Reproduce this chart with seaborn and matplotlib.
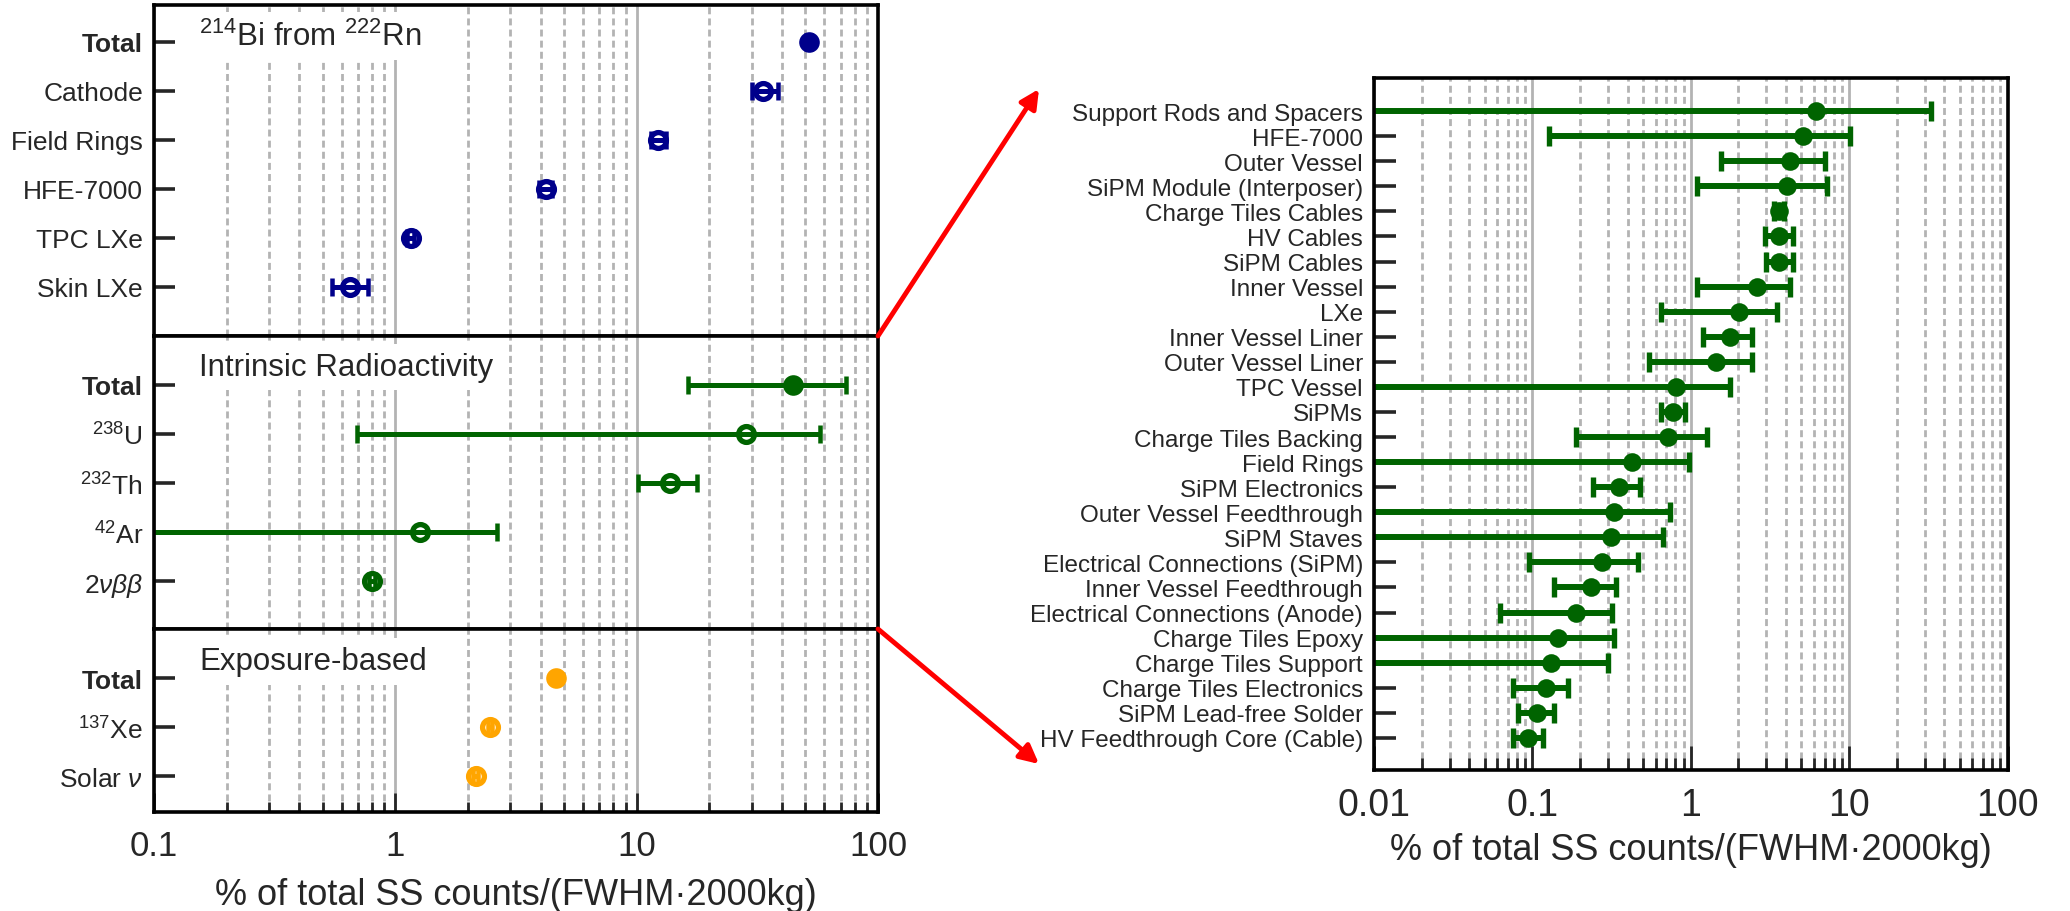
import numpy as np
import matplotlib
matplotlib.use("Agg")
import matplotlib.pyplot as plt
import seaborn as sns

# ---- data ----
bi_labels = ["Total", "Cathode", "Field Rings", "HFE-7000", "TPC LXe", "Skin LXe"]
bi_val = [51.7, 33.3, 12.3, 4.2, 1.16, 0.65]
bi_lo = [50.5, 30.0, 11.5, 3.95, 1.12, 0.545]
bi_hi = [53.0, 38.5, 13.2, 4.45, 1.20, 0.77]

intr_labels = ["Total", r"$^{238}$U", r"$^{232}$Th", r"$^{42}$Ar", r"2$\nu\beta\beta$"]
intr_val = [44.4, 28.3, 13.8, 1.26, 0.80]
intr_lo = [16.3, 0.695, 10.1, 0.0, 0.78]
intr_hi = [73.6, 57.3, 17.7, 2.65, 0.82]

expo_labels = ["Total", r"$^{137}$Xe", r"Solar $\nu$"]
expo_val = [4.65, 2.47, 2.15]
expo_lo = [4.6, 2.42, 2.1]
expo_hi = [4.7, 2.52, 2.2]

comp_labels = ["Support Rods and Spacers", "HFE-7000", "Outer Vessel", "SiPM Module (Interposer)",
               "Charge Tiles Cables", "HV Cables", "SiPM Cables", "Inner Vessel", "LXe",
               "Inner Vessel Liner", "Outer Vessel Liner", "TPC Vessel", "SiPMs",
               "Charge Tiles Backing", "Field Rings", "SiPM Electronics", "Outer Vessel Feedthrough",
               "SiPM Staves", "Electrical Connections (SiPM)", "Inner Vessel Feedthrough",
               "Electrical Connections (Anode)", "Charge Tiles Epoxy", "Charge Tiles Support",
               "Charge Tiles Electronics", "SiPM Lead-free Solder", "HV Feedthrough Core (Cable)"]
comp_val = [6.2, 5.08, 4.21, 4.08, 3.63, 3.59, 3.59, 2.62, 2.02, 1.78, 1.44, 0.81, 0.773,
            0.714, 0.427, 0.35, 0.326, 0.313, 0.276, 0.233, 0.189, 0.145, 0.132, 0.122, 0.107, 0.0944]
comp_lo = [0.0, 0.128, 1.56, 1.09, 3.35, 2.94, 3.0, 1.10, 0.647, 1.19, 0.546, 0.0, 0.65,
           0.189, 0.0, 0.24, 0.0, 0.0, 0.0955, 0.136, 0.0623, 0.0, 0.0, 0.076, 0.0815, 0.076]
comp_hi = [32.7, 10.07, 7.05, 7.26, 3.9, 4.42, 4.4, 4.21, 3.49, 2.44, 2.44, 1.76, 0.92,
           1.26, 0.97, 0.475, 0.743, 0.667, 0.466, 0.336, 0.32, 0.33, 0.30, 0.169, 0.136, 0.117]

NAVY = "#00008b"
GREEN = "#006400"
ORANGE = "#ffa500"
GRID = "#b3b3b3"

sns.set_style("white")
plt.rcParams["font.family"] = ["Liberation Sans", "DejaVu Sans"]
plt.rcParams["mathtext.fontset"] = "custom"
plt.rcParams["mathtext.rm"] = "Liberation Sans"
plt.rcParams["mathtext.it"] = "Liberation Sans:italic"
plt.rcParams["mathtext.bf"] = "Liberation Sans:bold"


def style_axis(ax, xlim, ytick_len, xmaj_len, xmin_len, show_x):
    ax.set_xscale("log")
    ax.set_xlim(*xlim)
    for s in ax.spines.values():
        s.set_linewidth(2.6)
        s.set_color("black")
        s.set_zorder(7)
    ax.grid(which="major", axis="x", color=GRID, lw=2, ls="-", zorder=0)
    ax.grid(which="minor", axis="x", color=GRID, lw=2, ls=(0, (2.5, 1.5)), zorder=0)
    ax.grid(which="both", axis="y", visible=False)
    ax.tick_params(axis="y", which="both", direction="in", length=ytick_len, width=2.6,
                   left=True, right=False, pad=8)
    if show_x:
        ax.tick_params(axis="x", which="major", direction="in", length=xmaj_len, width=2,
                       bottom=True, top=False, pad=12)
        ax.tick_params(axis="x", which="minor", direction="in", length=xmin_len, width=2,
                       bottom=True, top=False)
    else:
        ax.tick_params(axis="x", which="both", length=0, labelbottom=False)


def draw_group(ax, labels, vals, lo, hi, color, label_size, ms_fill, ms_open, elw, cap,
               filled_all=False):
    vals = np.array(vals)
    ys = np.arange(len(labels))
    xerr = [vals - np.array(lo), np.array(hi) - vals]
    filled = np.array([filled_all or lab == "Total" for lab in labels])
    if filled.any():
        sns.scatterplot(x=vals[filled], y=ys[filled], ax=ax, color=color, s=ms_fill,
                        linewidth=0, marker="o", zorder=5)
    if (~filled).any():
        sns.scatterplot(x=vals[~filled], y=ys[~filled], ax=ax, color=color, s=ms_open,
                        facecolor="white", edgecolor=color, linewidth=3.8, marker="o", zorder=5)
    # error bars sit on top of the markers, as in the original
    ax.errorbar(vals, ys, xerr=xerr, fmt="none", ecolor=color, elinewidth=elw,
                capsize=cap, capthick=elw * 0.9, zorder=6)
    ax.set_yticks(ys)
    ax.set_yticklabels(labels, fontsize=label_size)
    for t in ax.get_yticklabels():
        if t.get_text() == "Total":
            t.set_fontweight("bold")


fig = plt.figure(figsize=(20.7, 9.12), dpi=100)
gs = fig.add_gridspec(3, 1, left=154 / 2070, right=878 / 2070, top=1 - 6 / 912,
                      bottom=1 - 813 / 912, hspace=0, height_ratios=[6.75, 5.98, 3.73])
ax_bi = fig.add_subplot(gs[0])
ax_in = fig.add_subplot(gs[1], sharex=ax_bi)
ax_ex = fig.add_subplot(gs[2], sharex=ax_bi)

draw_group(ax_bi, bi_labels, bi_val, bi_lo, bi_hi, NAVY, 19, 220, 130, 3.6, 6.5)
draw_group(ax_in, intr_labels, intr_val, intr_lo, intr_hi, GREEN, 19, 220, 130, 3.6, 6.5)
draw_group(ax_ex, expo_labels, expo_val, expo_lo, expo_hi, ORANGE, 19, 220, 130, 3.6, 6.5)

ax_bi.set_ylim(6.0, -0.75)
ax_in.set_ylim(4.98, -1.0)
ax_ex.set_ylim(2.73, -1.0)

for a in (ax_bi, ax_in):
    style_axis(a, (0.1, 100), 15, 14, 7, False)
style_axis(ax_ex, (0.1, 100), 15, 14, 7, True)
ax_ex.set_xticks([0.1, 1, 10, 100])
ax_ex.set_xticklabels(["0.1", "1", "10", "100"], fontsize=25)
ax_ex.set_xlabel("% of total SS counts/(FWHM\u00b72000kg)", fontsize=26, labelpad=11)
for a in (ax_bi, ax_in, ax_ex):
    a.set_ylabel("")

box = dict(facecolor="white", edgecolor="none", pad=6)
ax_bi.text(0.062, 0.906, r"$^{214}$Bi from $^{222}$Rn", transform=ax_bi.transAxes,
           fontsize=22.5, ha="left", va="center", bbox=box, zorder=3)
ax_in.text(0.062, 0.894, "Intrinsic Radioactivity", transform=ax_in.transAxes,
           fontsize=22.5, ha="left", va="center", bbox=box, zorder=3)
ax_ex.text(0.062, 0.825, "Exposure-based", transform=ax_ex.transAxes,
           fontsize=22.5, ha="left", va="center", bbox=box, zorder=3)

# right panel: component breakdown
ax_r = fig.add_axes([1374 / 2070, 1 - 771 / 912, (2007.5 - 1374) / 2070, (771 - 79) / 912])
draw_group(ax_r, comp_labels, comp_val, comp_lo, comp_hi, GREEN, 17.5, 180, 180, 4.3, 7.5,
           filled_all=True)
ax_r.set_ylim(25 + 1.28, -1.32)
style_axis(ax_r, (0.01, 100), 16, 17, 8.5, True)
ax_r.set_xticks([0.01, 0.1, 1, 10, 100])
ax_r.set_xticklabels(["0.01", "0.1", "1", "10", "100"], fontsize=27)
ax_r.set_xlabel("% of total SS counts/(FWHM\u00b72000kg)", fontsize=26, labelpad=7)
ax_r.set_ylabel("")

# zoom arrows from the intrinsic panel to the breakdown
arrow = dict(arrowstyle="-|>", color="red", lw=3.5, mutation_scale=28, shrinkA=0, shrinkB=0)
fig.add_artist(matplotlib.patches.FancyArrowPatch((878 / 2070, 1 - 337 / 912), (1039 / 2070, 1 - 90 / 912),
                                                  transform=fig.transFigure, **arrow))
fig.add_artist(matplotlib.patches.FancyArrowPatch((878 / 2070, 1 - 630 / 912), (1039 / 2070, 1 - 765 / 912),
                                                  transform=fig.transFigure, **arrow))

fig.savefig("out.png", dpi=100, facecolor="white")
